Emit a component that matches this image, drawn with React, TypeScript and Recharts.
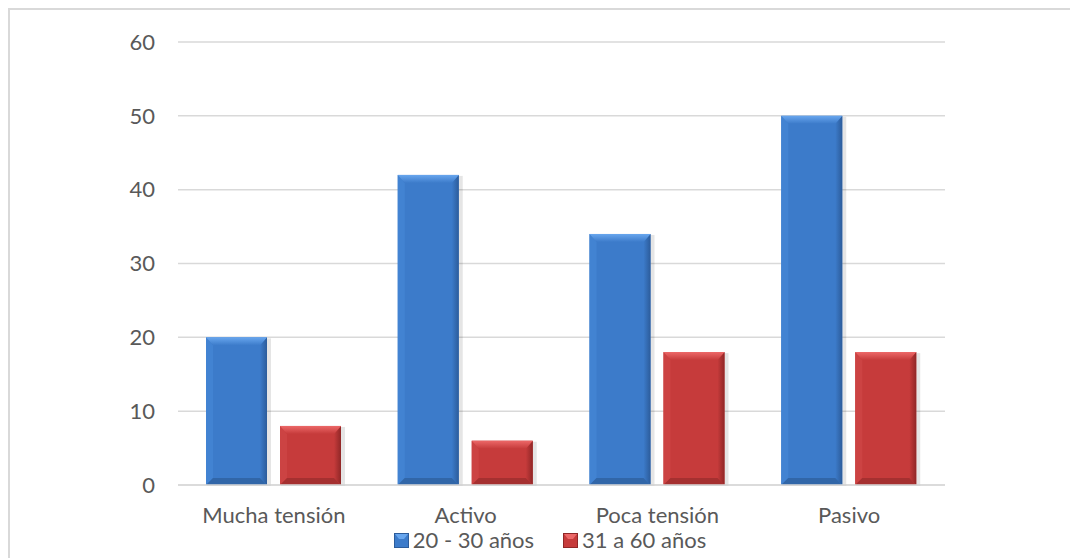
import { BarChart, Bar, XAxis, YAxis, CartesianGrid, Legend } from "recharts"

// Estilos de tensión laboral por grupo de edad
const categorias = ["Mucha tensión", "Activo", "Poca tensión", "Pasivo"]
const edad20a30 = [20, 42, 34, 50]
const edad31a60 = [8, 6, 18, 18]
const ticksY = [0, 10, 20, 30, 40, 50, 60]

const data = categorias.map((cat, i) => ({
  cat,
  joven: edad20a30[i],
  adulto: edad31a60[i],
}))

const FONT = "Lato, 'Open Sans', sans-serif"
const TEXT = "#595959"

type Paleta = { id: string; main: string; top: string; left: string; right: string; bottom: string }

const AZUL: Paleta = {
  id: "az",
  main: "#3c7bca",
  top: "#68a6ee",
  left: "#4283d2",
  right: "#2c5c9b",
  bottom: "#3166a8",
}
const ROJO: Paleta = {
  id: "ro",
  main: "#c63b3b",
  top: "#ec6868",
  left: "#cc4343",
  right: "#902727",
  bottom: "#a53030",
}

// barra con bisel (estilo 3D de Excel)
function BiselBar(props: any, p: Paleta) {
  const { x, y, width: w, height: h } = props
  if (!h || h <= 0) return <g />
  const b = Math.min(8, h / 2)
  const s = Math.min(7, w / 4)
  return (
    <g>
      <rect x={x + 1} y={y + 1} width={w + 3} height={h} fill="#000" opacity={0.1} />
      <rect x={x} y={y} width={w} height={h} fill={p.main} />
      <polygon
        points={`${x},${y} ${x + s},${y + b} ${x + s},${y + h - s} ${x},${y + h}`}
        fill={p.left}
      />
      <polygon
        points={`${x + w},${y} ${x + w},${y + h} ${x + w - s},${y + h - s} ${x + w - s},${y + b}`}
        fill={`url(#der-${p.id})`}
      />
      <polygon
        points={`${x},${y + h} ${x + w},${y + h} ${x + w - s},${y + h - s} ${x + s},${y + h - s}`}
        fill={p.bottom}
      />
      <polygon
        points={`${x},${y} ${x + w},${y} ${x + w - s},${y + b} ${x + s},${y + b}`}
        fill={`url(#sup-${p.id})`}
      />
    </g>
  )
}

function Gradientes() {
  return (
    <defs>
      {[AZUL, ROJO].map((p) => (
        <g key={p.id}>
          <linearGradient id={`sup-${p.id}`} x1="0" y1="0" x2="0" y2="1">
            <stop offset="0%" stopColor={p.top} />
            <stop offset="100%" stopColor={p.main} />
          </linearGradient>
          <linearGradient id={`der-${p.id}`} x1="0" y1="0" x2="1" y2="0">
            <stop offset="0%" stopColor={p.main} />
            <stop offset="100%" stopColor={p.right} />
          </linearGradient>
        </g>
      ))}
    </defs>
  )
}

function Icono({ p }: { p: Paleta }) {
  return (
    <svg width={15} height={15} style={{ display: "block" }}>
      <rect x={0} y={0} width={15} height={15} fill={p.right} />
      <rect x={1} y={1} width={13} height={13} fill={p.main} />
      <polygon points="1,1 14,1 10,6 5,6" fill={p.top} />
    </svg>
  )
}

function Leyenda() {
  const items = [
    { label: "20 - 30 años", p: AZUL },
    { label: "31 a 60 años", p: ROJO },
  ]
  return (
    <div
      style={{
        display: "flex",
        justifyContent: "center",
        gap: 29,
        paddingLeft: 12,
        fontFamily: FONT,
        fontSize: 22,
        color: TEXT,
        lineHeight: "20px",
      }}
    >
      {items.map((it) => (
        <div key={it.label} style={{ display: "flex", alignItems: "center", gap: 4 }}>
          <Icono p={it.p} />
          <span>{it.label}</span>
        </div>
      ))}
    </div>
  )
}

export default function App() {
  return (
    <div
      style={{
        width: 1070,
        height: 550,
        boxSizing: "border-box",
        borderLeft: "2px solid #d9d9d9",
        borderTop: "2px solid #d9d9d9",
        background: "#fff",
      }}
    >
      <BarChart
        width={1068}
        height={548}
        data={data}
        margin={{ top: 32, right: 133, left: 0, bottom: 8 }}
        barSize={61}
        barGap={13}
      >
        <Gradientes />
        <CartesianGrid vertical={false} stroke="#d9d9d9" strokeWidth={1.5} />
        <XAxis
          dataKey="cat"
          height={45}
          tickLine={false}
          tickSize={0}
          tickMargin={22}
          axisLine={{ stroke: "#d9d9d9", strokeWidth: 1.5 }}
          tick={{ fill: TEXT, fontSize: 22, fontFamily: FONT }}
        />
        <YAxis
          width={168}
          domain={[0, 60]}
          ticks={ticksY}
          interval={0}
          tickLine={false}
          tickSize={0}
          tickMargin={23}
          axisLine={false}
          tick={{ fill: TEXT, fontSize: 22, fontFamily: FONT }}
        />
        <Legend
          verticalAlign="bottom"
          height={20}
          wrapperStyle={{ left: 0, width: 1068 }}
          content={() => <Leyenda />}
        />
        <Bar
          dataKey="joven"
          name="20 - 30 años"
          fill={AZUL.main}
          isAnimationActive={false}
          shape={(props: any) => BiselBar(props, AZUL)}
        />
        <Bar
          dataKey="adulto"
          name="31 a 60 años"
          fill={ROJO.main}
          isAnimationActive={false}
          shape={(props: any) => BiselBar(props, ROJO)}
        />
      </BarChart>
    </div>
  )
}
